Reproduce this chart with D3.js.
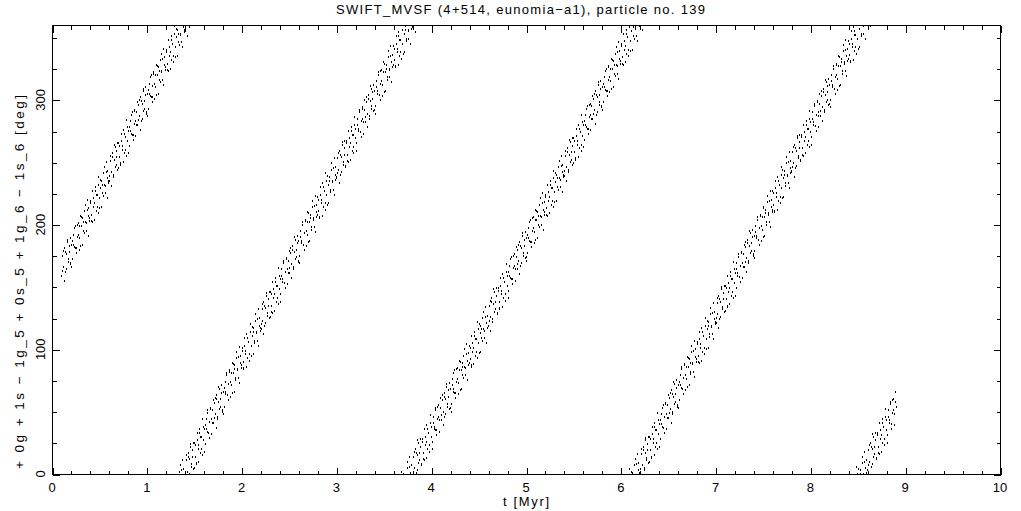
<!DOCTYPE html>
<html>
<head>
<meta charset="utf-8">
<script src="https://cdn.jsdelivr.net/npm/d3@7"></script>
<style>
  html, body { margin: 0; padding: 0; background: #fff; }
  svg { display: block; }
  text { font-family: "Liberation Sans", Arial, sans-serif; fill: #000; }
</style>
</head>
<body>
<svg id="chart" width="1021" height="511"></svg>
<script>
// ---- data ----
const titleText = "SWIFT_MVSF (4+514, eunomia\u2212a1), particle no. 139";
const xLabel = "t [Myr]";
const yLabel = "+ 0g + 1s \u2212 1g_5 + 0s_5 + 1g_6 \u2212 1s_6 [deg]";
const xTicks = [0, 1, 2, 3, 4, 5, 6, 7, 8, 9, 10];
const yTicks = [0, 100, 200, 300];
const tStartA = 0.100;   // Myr
const tStartB = 0.105;   // Myr
const tStep = 0.01;      // Myr
// resonant angle [deg], outputs at tStartA + i*tStep
const phiA = [
159,175,166,181,162,176,186,172,183,168,
184,172,192,182,199,181,190,201,180,199,
183,199,205,195,211,202,195,220,207,203,
219,208,202,221,217,230,211,224,209,232,
213,229,235,225,241,232,225,250,237,233,
235,251,242,257,238,252,262,248,259,244,
265,254,248,267,263,276,257,270,255,278,
275,263,283,273,290,272,281,292,271,290,
280,296,287,302,283,297,307,293,304,289,
305,293,313,303,320,302,311,322,301,320,
304,320,326,316,332,323,316,341,328,324,
340,329,323,342,338,351,332,345,330,353,
334,350,356,346,2,353,346,11,358,354,
355,11,2,17,358,12,22,8,19,4,
25,14,8,27,23,36,17,30,15,38,
36,24,44,34,51,33,42,53,32,51,
41,57,48,63,44,58,68,54,65,50,
66,54,74,64,81,63,72,83,62,81,
65,81,87,77,93,84,77,102,89,85,
101,90,84,103,99,112,93,106,91,114,
95,111,117,107,123,114,107,132,119,115,
116,132,123,138,119,133,143,129,140,125,
146,135,129,148,144,157,138,151,136,159,
156,144,164,154,171,153,162,173,152,171,
161,177,168,183,164,178,188,174,185,170,
187,175,195,185,202,184,193,204,183,202,
186,202,208,198,214,205,198,223,210,206,
222,211,205,224,220,233,214,227,212,235,
216,232,238,228,244,235,228,253,240,236,
237,253,244,259,240,254,264,250,261,246,
267,256,250,269,265,278,259,272,257,280,
277,265,285,275,292,274,283,294,273,292,
282,298,289,304,285,299,309,295,306,291,
307,295,315,305,322,304,313,324,303,322,
306,322,328,318,334,325,318,343,330,326,
343,332,326,345,341,354,335,348,333,356,
337,353,359,349,5,356,349,14,1,357,
358,14,5,20,1,15,25,11,22,7,
28,17,11,30,26,39,20,33,18,41,
38,26,46,36,53,35,44,55,34,53,
43,59,50,65,46,60,70,56,67,52,
68,56,76,66,83,65,74,85,64,83,
67,83,89,79,95,86,79,104,91,87,
103,92,86,105,101,114,95,108,93,116,
97,113,119,109,125,116,109,134,121,117,
119,135,126,141,122,136,146,132,143,128,
149,138,132,151,147,160,141,154,139,162,
159,147,167,157,174,156,165,176,155,174,
164,180,171,186,167,181,191,177,188,173,
189,177,197,187,204,186,195,206,185,204,
188,204,210,200,216,207,200,225,212,208,
224,213,207,226,222,235,216,229,214,237,
218,234,240,230,246,237,230,255,242,238,
239,255,246,261,242,256,266,252,263,248,
269,258,252,271,267,280,261,274,259,282,
280,268,288,278,295,277,286,297,276,295,
285,301,292,307,288,302,312,298,309,294,
310,298,318,308,325,307,316,327,306,325,
309,325,331,321,337,328,321,346,333,329,
345,334,328,347,343,356,337,350,335,358,
339,355,1,351,7,358,351,16,3,359,
0,16,7,22,3,17,27,13,24,9,
30,19,13,32,28,41,22,35,20,43,
40,28,48,38,55,37,46,57,36,55,
45,61,52,67,48,62,72,58,69,54,
71,59,79,69,86,68,77,88,67,86,
70,86,92,82,98,89,82,107,94,90,
106,95,89,108,104,117,98,111,96,119,
100,116,122,112,128,119,112,137,124,120,
121,137,128,143,124,138,148,134,145,130,
151,140,134,153,149,162,143,156,141,164,
161,149,169,159,176,158,167,178,157,176,
166,182,173,188,169,183,193,179,190,175,
191,179,199,189,206,188,197,208,187,206,
190,206,212,202,218,209,202,227,214,210,
227,216,210,229,225,238,219,232,217,240,
221,237,243,233,249,240,233,258,245,241,
242,258,249,264,245,259,269,255,266,251,
272,261,255,274,270,283,264,277,262,285,
282,270,290,280,297,279,288,299,278,297,
287,303,294,309,290,304,314,300,311,296,
312,300,320,310,327,309,318,329,308,327,
311,327,333,323,339,330,323,348,335,331,
347,336,330,349,345,358,339,352,337,0,
341,357,3,353,9,0,353,18,5,1,
3,19,10,25,6,20,30,16,27,12,
33,22,16,35,31,44,25,38,23,46,
43,31,51,41,58,40,49,60,39,58,
54
];
// resonant angle [deg], outputs at tStartB + i*tStep
const phiB = [
163,179,155,178,164,188,170,178,189,169,
166,187,184,197,181,177,200,192,189,207,
206,184,202,193,216,201,212,191,213,205,
217,203,227,214,204,227,224,214,238,221,
236,214,232,223,246,231,242,221,243,235,
239,255,231,254,240,264,246,254,265,245,
263,249,273,260,250,273,270,260,284,267,
257,278,275,288,272,268,291,283,280,298,
284,300,276,299,285,309,291,299,310,290,
287,308,305,318,302,298,321,313,310,328,
327,305,323,314,337,322,333,312,334,326,
338,324,348,335,325,348,345,335,359,342,
357,335,353,344,7,352,3,342,4,356,
359,15,351,14,0,24,6,14,25,5,
23,9,33,20,10,33,30,20,44,27,
18,39,36,49,33,29,52,44,41,59,
45,61,37,60,46,70,52,60,71,51,
48,69,66,79,63,59,82,74,71,89,
88,66,84,75,98,83,94,73,95,87,
99,85,109,96,86,109,106,96,120,103,
118,96,114,105,128,113,124,103,125,117,
120,136,112,135,121,145,127,135,146,126,
144,130,154,141,131,154,151,141,165,148,
138,159,156,169,153,149,172,164,161,179,
165,181,157,180,166,190,172,180,191,171,
169,190,187,200,184,180,203,195,192,210,
209,187,205,196,219,204,215,194,216,208,
220,206,230,217,207,230,227,217,241,224,
239,217,235,226,249,234,245,224,246,238,
241,257,233,256,242,266,248,256,267,247,
265,251,275,262,252,275,272,262,286,269,
259,280,277,290,274,270,293,285,282,300,
286,302,278,301,287,311,293,301,312,292,
289,310,307,320,304,300,323,315,312,330,
329,307,325,316,339,324,335,314,336,328,
341,327,351,338,328,351,348,338,2,345,
0,338,356,347,10,355,6,345,7,359,
2,18,354,17,3,27,9,17,28,8,
26,12,36,23,13,36,33,23,47,30,
20,41,38,51,35,31,54,46,43,61,
47,63,39,62,48,72,54,62,73,53,
50,71,68,81,65,61,84,76,73,91,
90,68,86,77,100,85,96,75,97,89,
101,87,111,98,88,111,108,98,122,105,
120,98,116,107,130,115,126,105,127,119,
123,139,115,138,124,148,130,138,149,129,
147,133,157,144,134,157,154,144,168,151,
141,162,159,172,156,152,175,167,164,182,
168,184,160,183,169,193,175,183,194,174,
171,192,189,202,186,182,205,197,194,212,
211,189,207,198,221,206,217,196,218,210,
222,208,232,219,209,232,229,219,243,226,
241,219,237,228,251,236,247,226,248,240,
243,259,235,258,244,268,250,258,269,249,
267,253,277,264,254,277,274,264,288,271,
262,283,280,293,277,273,296,288,285,303,
289,305,281,304,290,314,296,304,315,295,
292,313,310,323,307,303,326,318,315,333,
332,310,328,319,342,327,338,317,339,331,
343,329,353,340,330,353,350,340,4,347,
2,340,358,349,12,357,8,347,9,1,
4,20,356,19,5,29,11,19,30,10,
28,14,38,25,15,38,35,25,49,32,
22,43,40,53,37,33,56,48,45,63,
49,65,41,64,50,74,56,64,75,55,
53,74,71,84,68,64,87,79,76,94,
93,71,89,80,103,88,99,78,100,92,
104,90,114,101,91,114,111,101,125,108,
123,101,119,110,133,118,129,108,130,122,
125,141,117,140,126,150,132,140,151,131,
149,135,159,146,136,159,156,146,170,153,
143,164,161,174,158,154,177,169,166,184,
170,186,162,185,171,195,177,185,196,176,
173,194,191,204,188,184,207,199,196,214,
213,191,209,200,223,208,219,198,220,212,
225,211,235,222,212,235,232,222,246,229,
244,222,240,231,254,239,250,229,251,243,
246,262,238,261,247,271,253,261,272,252,
270,256,280,267,257,280,277,267,291,274,
264,285,282,295,279,275,298,290,287,305,
291,307,283,306,292,316,298,306,317,297,
294,315,312,325,309,305,328,320,317,335,
334,312,330,321,344,329,340,319,341,333,
345,331,355,342,332,355,352,342,6,349,
4,342,0,351,14,359,10,349,11,3,
7,23,359,22,8,32,14,22,33,13,
31,17,41,28,18,41,38,28,52,35,
25,46,43,56,40,36,59,51,48,66
];
const points = phiA.map((p, i) => ({ t: tStartA + i * tStep, phi: p }))
  .concat(phiB.map((p, i) => ({ t: tStartB + i * tStep, phi: p })));

// ---- layout ----
const W = 1021, H = 511;
const m = { left: 52, right: 21, top: 25, bottom: 37 };
const x0 = m.left, x1 = W - m.right, y0 = H - m.bottom, y1 = m.top;

const x = d3.scaleLinear().domain([0, 10]).range([x0, x1]);
const y = d3.scaleLinear().domain([0, 360]).range([y0, y1]);

const svg = d3.select("#chart");
svg.append("rect").attr("width", W).attr("height", H).attr("fill", "#fff");

// points
svg.append("g").attr("shape-rendering", "crispEdges")
  .selectAll("rect").data(points).join("rect")
  .attr("x", d => Math.round(x(d.t)))
  .attr("y", d => Math.round(y(d.phi)) - 1)
  .attr("width", 1)
  .attr("height", 2)
  .attr("fill", "#000");

// frame
const frame = svg.append("g").attr("shape-rendering", "crispEdges");
frame.append("rect")
  .attr("x", x0 + 0.5).attr("y", y1 + 0.5)
  .attr("width", x1 - x0).attr("height", y0 - y1)
  .attr("fill", "none").attr("stroke", "#000").attr("stroke-width", 1);

// ticks via d3 axes (inward)
const xMinor = d3.range(0, 10.001, 0.2).filter(v => Math.abs(v - Math.round(v)) > 1e-6);
const yMinor = d3.range(0, 360.001, 25).filter(v => v % 100 !== 0);

function styleAxis(g) {
  g.select(".domain").remove();
  g.selectAll("line").attr("stroke", "#000").attr("shape-rendering", "crispEdges");
  g.selectAll("text").remove();
}
// bottom
frame.append("g").attr("transform", `translate(0.5,${y0 + 0.5})`)
  .call(d3.axisTop(x).tickValues(xTicks).tickSize(7)).call(styleAxis);
frame.append("g").attr("transform", `translate(0.5,${y0 + 0.5})`)
  .call(d3.axisTop(x).tickValues(xMinor).tickSize(4)).call(styleAxis);
// top
frame.append("g").attr("transform", `translate(0.5,${y1 + 0.5})`)
  .call(d3.axisBottom(x).tickValues(xTicks).tickSize(7)).call(styleAxis);
frame.append("g").attr("transform", `translate(0.5,${y1 + 0.5})`)
  .call(d3.axisBottom(x).tickValues(xMinor).tickSize(4)).call(styleAxis);
// left
frame.append("g").attr("transform", `translate(${x0 + 0.5},0.5)`)
  .call(d3.axisRight(y).tickValues(yTicks).tickSize(7)).call(styleAxis);
frame.append("g").attr("transform", `translate(${x0 + 0.5},0.5)`)
  .call(d3.axisRight(y).tickValues(yMinor).tickSize(4)).call(styleAxis);
// right
frame.append("g").attr("transform", `translate(${x1 + 0.5},0.5)`)
  .call(d3.axisLeft(y).tickValues(yTicks).tickSize(7)).call(styleAxis);
frame.append("g").attr("transform", `translate(${x1 + 0.5},0.5)`)
  .call(d3.axisLeft(y).tickValues(yMinor).tickSize(4)).call(styleAxis);

// tick labels
svg.append("g").selectAll("text").data(xTicks).join("text")
  .attr("x", d => x(d)).attr("y", y0 + 18)
  .attr("text-anchor", "middle").attr("font-size", 13)
  .text(d => d);
svg.append("g").selectAll("text").data(yTicks).join("text")
  .attr("transform", d => `translate(${x0 - 7},${y(d)}) rotate(-90)`)
  .attr("text-anchor", "middle").attr("font-size", 13)
  .text(d => d);

// titles
svg.append("text").attr("x", 336).attr("y", 14)
  .attr("font-size", 13).attr("textLength", 369).attr("lengthAdjust", "spacing")
  .text(titleText);
svg.append("text").attr("x", (x0 + x1) / 2).attr("y", 506)
  .attr("text-anchor", "middle").attr("font-size", 13)
  .attr("textLength", 46).attr("lengthAdjust", "spacing").text(xLabel);
svg.append("text").attr("transform", `translate(24,${282}) rotate(-90)`)
  .attr("text-anchor", "middle").attr("font-size", 13.5)
  .attr("textLength", 374).attr("lengthAdjust", "spacing").text(yLabel);
</script>
</body>
</html>
